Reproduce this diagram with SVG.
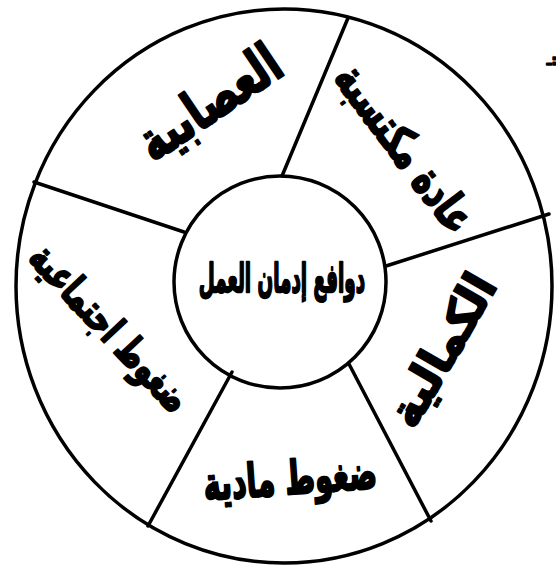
<svg xmlns="http://www.w3.org/2000/svg" width="556" height="568" viewBox="0 0 556 568">
<style>
.ln{stroke:#000;stroke-width:3.5;fill:none;stroke-linecap:round}
.t{font-family:"DejaVu Sans",sans-serif;font-weight:bold;fill:#000;stroke:#000;stroke-width:1.6;stroke-linejoin:round;text-anchor:middle;dominant-baseline:central}
</style>
<rect width="556" height="568" fill="#fff"/>
<g id="outer"><ellipse cx="284" cy="286" rx="268" ry="277" class="ln" stroke-width="4"/></g>
<g id="connectors">
<line class="ln" x1="282" y1="176" x2="348" y2="18"/>
<line class="ln" x1="386" y1="266" x2="549" y2="214"/>
<line class="ln" x1="349" y1="364" x2="431" y2="521"/>
<line class="ln" x1="232" y1="372" x2="148" y2="526"/>
<line class="ln" x1="184" y1="232" x2="34" y2="182"/>
</g>
<g id="center"><circle cx="280" cy="282" r="106" class="ln"/>
<text class="t" transform="translate(282,279) scale(0.68,1.45)" font-size="27">دوافع إدمان العمل</text></g>
<g id="seg-top-left"><text class="t" transform="translate(209,102) rotate(-34) scale(1.05,1.45)" font-size="38">العصابية</text></g>
<g id="seg-top-right"><text class="t" transform="translate(405,148) rotate(53) scale(0.95,1.35)" font-size="34">عادة مكتسبة</text></g>
<g id="seg-right"><text class="t" transform="translate(442,350) rotate(-60) scale(1.25,1.3)" font-size="36">الكمالية</text></g>
<g id="seg-bottom"><text class="t" transform="translate(290,478) rotate(-4) scale(0.9,1.45)" font-size="32">ضغوط مادية</text></g>
<g id="seg-left"><text class="t" transform="translate(110,328) rotate(47) scale(0.95,1.4)" font-size="29">ضغوط اجتماعية</text></g>
<g id="edge"><text class="t" x="552" y="60" font-size="14" stroke-width="0.5">ـ:</text></g>
</svg>
